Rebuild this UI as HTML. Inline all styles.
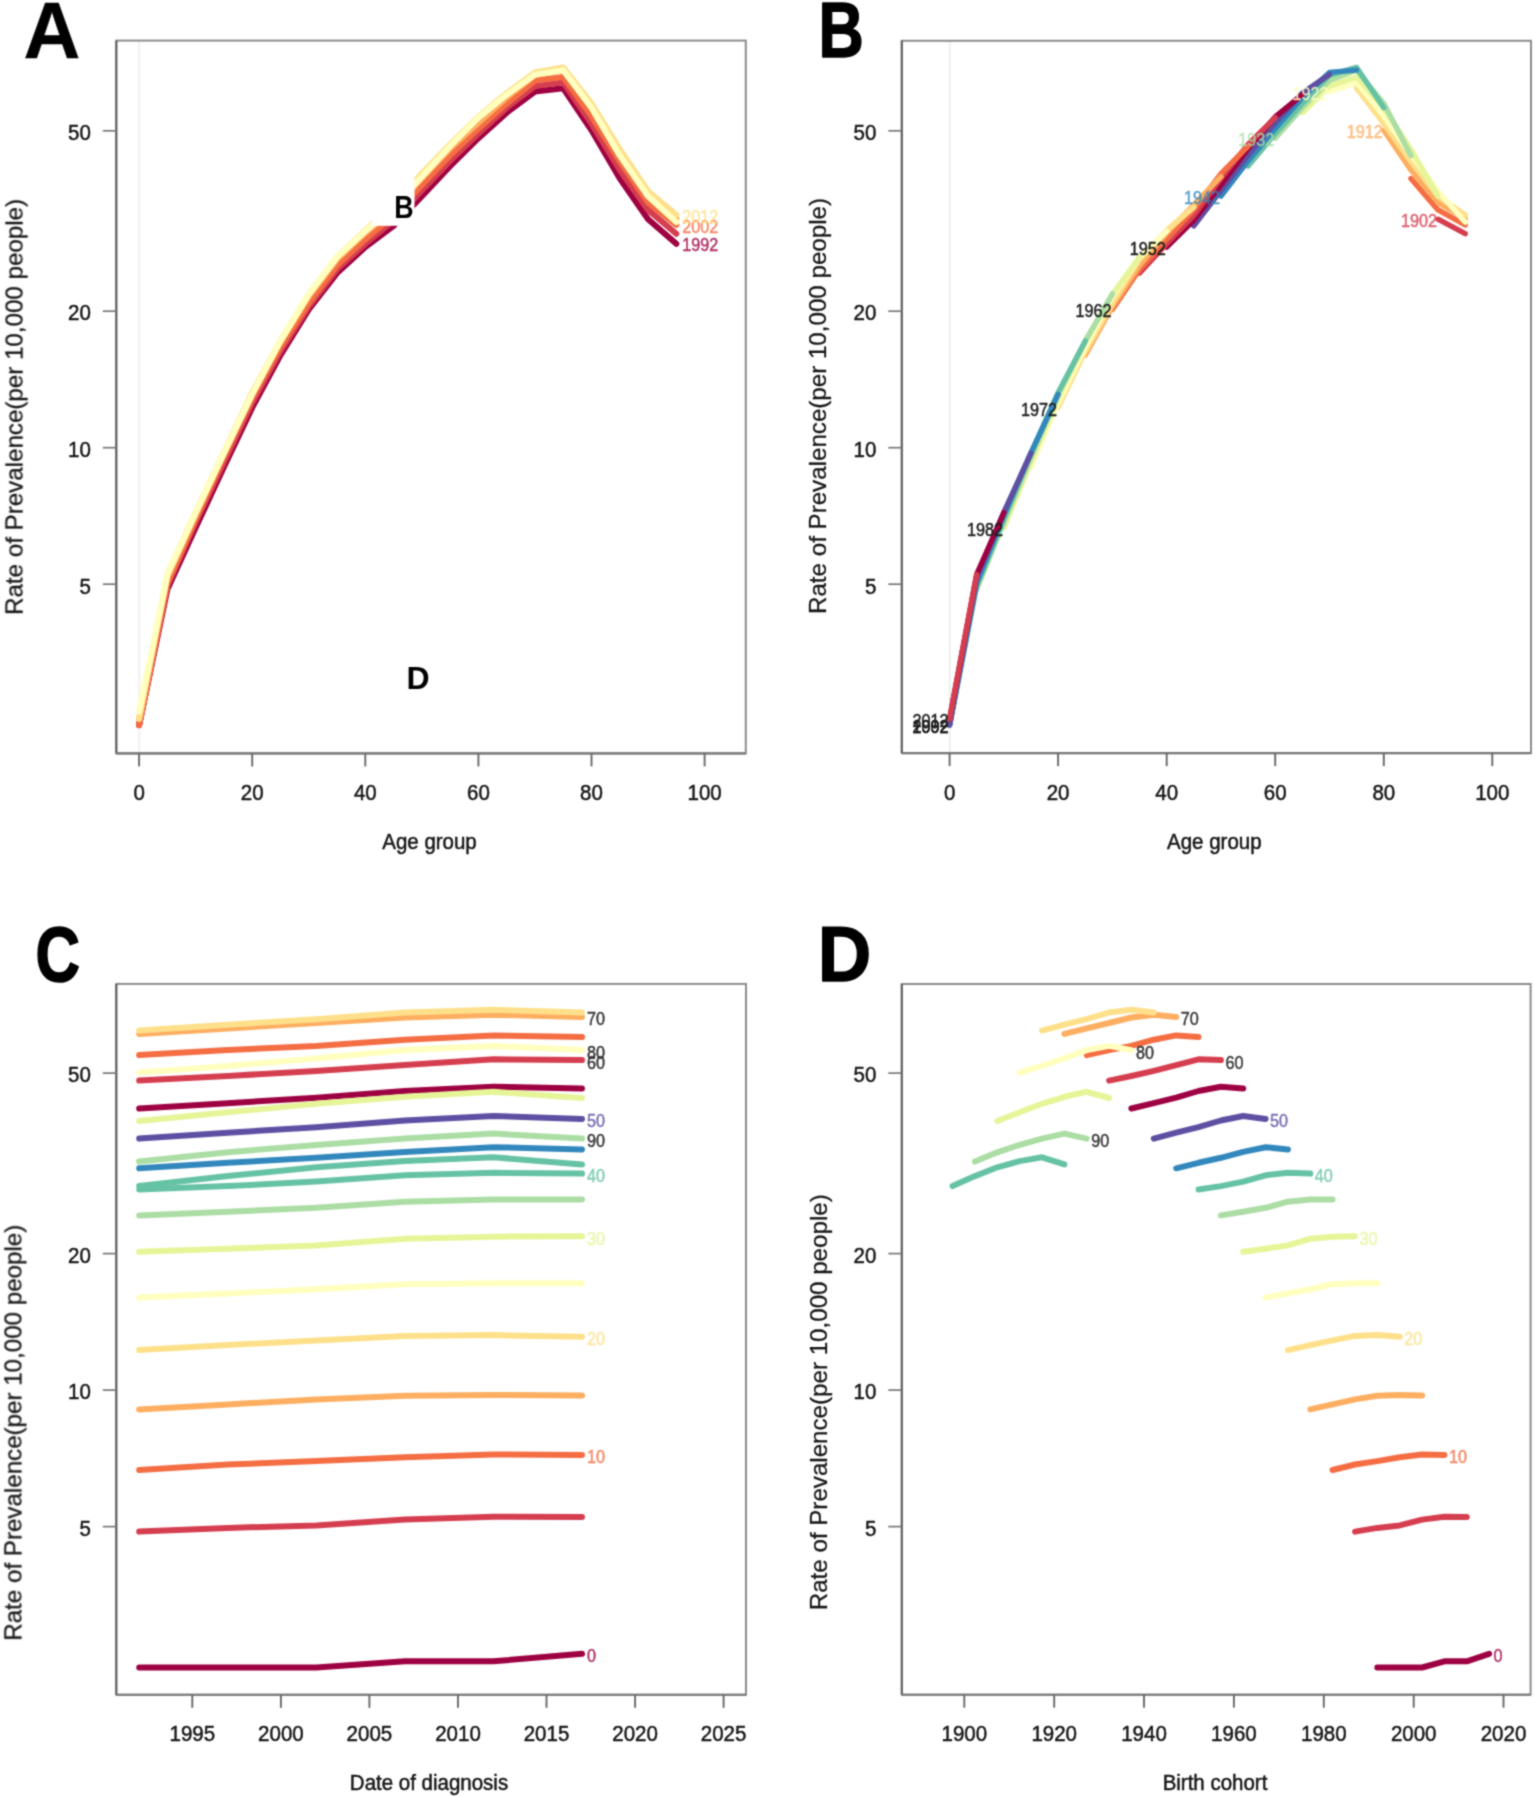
<!DOCTYPE html>
<html lang="en"><head><meta charset="utf-8"><title>Age-period-cohort rate plots</title>
<style>
html,body{margin:0;padding:0;background:#fff;}
body{width:1535px;height:1797px;overflow:hidden;}
svg{display:block;font-family:"Liberation Sans",sans-serif;}
polyline{fill:none;stroke-linecap:round;stroke-linejoin:round;}
</style></head><body>
<svg width="1535" height="1797" viewBox="0 0 1535 1797">
<defs><filter id="soft" filterUnits="userSpaceOnUse" x="0" y="0" width="1535" height="1797" color-interpolation-filters="sRGB"><feConvolveMatrix order="3" kernelMatrix="1 2 1 2 8 2 1 2 1" divisor="20" edgeMode="duplicate" preserveAlpha="false"/></filter></defs>
<g filter="url(#soft)">
<rect width="1535" height="1797" fill="#fff"/>
<line x1="139.2" y1="40.6" x2="139.2" y2="753.4" stroke="#f3f3f3" stroke-width="2.6"/>
<rect x="116.3" y="40.6" width="629.5" height="712.8" fill="none" stroke="#8c8c8c" stroke-width="2.0"/>
<line x1="116.3" y1="40.6" x2="116.3" y2="753.4" stroke="#606060" stroke-width="2.0"/>
<line x1="116.3" y1="753.4" x2="745.8" y2="753.4" stroke="#787878" stroke-width="2.1"/>
<line x1="139.1" y1="753.4" x2="139.1" y2="766.4" stroke="#686868" stroke-width="1.9"/>
<text transform="translate(139.1,799.9) scale(0.915,1)" font-size="22.4" fill="#151515" stroke="#151515" stroke-width="0.5" text-anchor="middle">0</text>
<line x1="252.2" y1="753.4" x2="252.2" y2="766.4" stroke="#686868" stroke-width="1.9"/>
<text transform="translate(252.2,799.9) scale(0.915,1)" font-size="22.4" fill="#151515" stroke="#151515" stroke-width="0.5" text-anchor="middle">20</text>
<line x1="365.3" y1="753.4" x2="365.3" y2="766.4" stroke="#686868" stroke-width="1.9"/>
<text transform="translate(365.3,799.9) scale(0.915,1)" font-size="22.4" fill="#151515" stroke="#151515" stroke-width="0.5" text-anchor="middle">40</text>
<line x1="478.4" y1="753.4" x2="478.4" y2="766.4" stroke="#686868" stroke-width="1.9"/>
<text transform="translate(478.4,799.9) scale(0.915,1)" font-size="22.4" fill="#151515" stroke="#151515" stroke-width="0.5" text-anchor="middle">60</text>
<line x1="591.5" y1="753.4" x2="591.5" y2="766.4" stroke="#686868" stroke-width="1.9"/>
<text transform="translate(591.5,799.9) scale(0.915,1)" font-size="22.4" fill="#151515" stroke="#151515" stroke-width="0.5" text-anchor="middle">80</text>
<line x1="704.6" y1="753.4" x2="704.6" y2="766.4" stroke="#686868" stroke-width="1.9"/>
<text transform="translate(704.6,799.9) scale(0.915,1)" font-size="22.4" fill="#151515" stroke="#151515" stroke-width="0.5" text-anchor="middle">100</text>
<line x1="102.8" y1="130.8" x2="116.3" y2="130.8" stroke="#787878" stroke-width="1.7"/>
<text transform="translate(90.8,140.0) scale(0.915,1)" font-size="22.4" fill="#151515" stroke="#151515" stroke-width="0.5" text-anchor="end">50</text>
<line x1="102.8" y1="311.2" x2="116.3" y2="311.2" stroke="#787878" stroke-width="1.7"/>
<text transform="translate(90.8,320.4) scale(0.915,1)" font-size="22.4" fill="#151515" stroke="#151515" stroke-width="0.5" text-anchor="end">20</text>
<line x1="102.8" y1="447.7" x2="116.3" y2="447.7" stroke="#787878" stroke-width="1.7"/>
<text transform="translate(90.8,457.0) scale(0.915,1)" font-size="22.4" fill="#151515" stroke="#151515" stroke-width="0.5" text-anchor="end">10</text>
<line x1="102.8" y1="584.2" x2="116.3" y2="584.2" stroke="#787878" stroke-width="1.7"/>
<text transform="translate(90.8,593.5) scale(0.915,1)" font-size="22.4" fill="#151515" stroke="#151515" stroke-width="0.5" text-anchor="end">5</text>
<text transform="translate(429.5,848.9) scale(0.915,1)" font-size="22.4" fill="#151515" stroke="#151515" stroke-width="0.5" text-anchor="middle">Age group</text>
<text transform="translate(22.5,406.9) rotate(-90)" font-size="24.1" fill="#161616" stroke="#161616" stroke-width="0.3" text-anchor="middle" textLength="416" lengthAdjust="spacingAndGlyphs" class="yl">Rate of Prevalence(per 10,000 people)</text>
<polyline points="139.1,725.1 167.4,589.2 195.7,527.6 223.9,467.1 252.2,407.7 280.5,355.1 308.8,309.4 337.0,273.1 365.3,247.1 393.6,225.9 421.9,196.2 450.1,166.1 478.4,138.2 506.7,112.7 535.0,91.6 563.2,88.2 591.5,130.2 619.8,178.6 648.1,219.2 676.3,243.7" stroke="#9E0142" stroke-width="6.0"/>
<polyline points="139.1,725.1 167.4,585.6 195.7,522.1 223.9,462.1 252.2,402.7 280.5,351.1 308.8,306.4 337.0,269.4 365.3,243.7 393.6,220.4 421.9,190.4 450.1,160.9 478.4,133.6 506.7,107.7 535.0,86.1 563.2,82.4 591.5,123.6 619.8,169.9 648.1,209.9 676.3,233.7" stroke="#D53E4F" stroke-width="6.0"/>
<polyline points="139.1,725.1 167.4,583.1 195.7,518.7 223.9,457.1 252.2,398.1 280.5,346.9 308.8,303.1 337.0,265.4 365.3,239.2 393.6,215.4 421.9,184.9 450.1,155.4 478.4,128.6 506.7,103.6 535.0,80.6 563.2,76.9 591.5,116.1 619.8,161.4 648.1,202.6 676.3,224.9" stroke="#F46D43" stroke-width="6.0"/>
<polyline points="139.1,718.9 167.4,577.2 195.7,514.9 223.9,453.4 252.2,393.6 280.5,341.9 308.8,296.4 337.0,259.4 365.3,232.9 393.6,209.6 421.9,178.1 450.1,148.6 478.4,122.7 506.7,97.4 535.0,75.1 563.2,70.1 591.5,107.7 619.8,154.4 648.1,196.2 676.3,218.7" stroke="#FDAE61" stroke-width="6.0"/>
<polyline points="139.1,718.9 167.4,574.4 195.7,512.1 223.9,452.6 252.2,392.7 280.5,340.9 308.8,294.4 337.0,257.1 365.3,230.4 393.6,204.9 421.9,173.6 450.1,144.4 478.4,116.9 506.7,93.1 535.0,72.4 563.2,67.4 591.5,103.6 619.8,149.4 648.1,191.2 676.3,214.9" stroke="#FEE08B" stroke-width="6.0"/>
<polyline points="139.1,711.4 167.4,574.6 195.7,512.6 223.9,453.1 252.2,394.4 280.5,340.9 308.8,293.9 337.0,257.1 365.3,231.2 393.6,207.1 421.9,176.6 450.1,146.1 478.4,117.7 506.7,94.7 535.0,74.6 563.2,70.1 591.5,107.7 619.8,155.6 648.1,196.2 676.3,222.1" stroke="#FFFFBF" stroke-width="6.0"/>
<text transform="translate(682.3,251.4) scale(0.9,1)" font-size="18" fill="#9E0142" stroke="#9E0142" stroke-width="0.5" text-anchor="start" opacity="0.8">1992</text>
<text transform="translate(682.3,232.6) scale(0.9,1)" font-size="18" fill="#F46D43" stroke="#F46D43" stroke-width="0.5" text-anchor="start" opacity="0.8">2002</text>
<text transform="translate(682.3,222.6) scale(0.9,1)" font-size="18" fill="#FEE08B" stroke="#FEE08B" stroke-width="0.5" text-anchor="start" opacity="0.8">2012</text>
<rect x="372" y="177" width="42.5" height="48.8" fill="#fff"/>
<text transform="translate(394.3,217.5) scale(0.88,1)" font-size="30.5" font-weight="bold" fill="#000">B</text>
<text transform="translate(406.6,688.8) scale(1.05,1)" font-size="30.5" font-weight="bold" fill="#000">D</text>
<line x1="949.8" y1="40.8" x2="949.8" y2="753.1" stroke="#e9e9e9" stroke-width="1.5"/>
<rect x="901.8" y="40.8" width="629.2" height="712.3" fill="none" stroke="#8c8c8c" stroke-width="2.0"/>
<line x1="901.8" y1="40.8" x2="901.8" y2="753.1" stroke="#606060" stroke-width="2.0"/>
<line x1="901.8" y1="753.1" x2="1531.0" y2="753.1" stroke="#787878" stroke-width="2.1"/>
<line x1="949.6" y1="753.1" x2="949.6" y2="766.1" stroke="#686868" stroke-width="1.9"/>
<text transform="translate(949.6,799.6) scale(0.915,1)" font-size="22.4" fill="#151515" stroke="#151515" stroke-width="0.5" text-anchor="middle">0</text>
<line x1="1058.1" y1="753.1" x2="1058.1" y2="766.1" stroke="#686868" stroke-width="1.9"/>
<text transform="translate(1058.1,799.6) scale(0.915,1)" font-size="22.4" fill="#151515" stroke="#151515" stroke-width="0.5" text-anchor="middle">20</text>
<line x1="1166.7" y1="753.1" x2="1166.7" y2="766.1" stroke="#686868" stroke-width="1.9"/>
<text transform="translate(1166.7,799.6) scale(0.915,1)" font-size="22.4" fill="#151515" stroke="#151515" stroke-width="0.5" text-anchor="middle">40</text>
<line x1="1275.2" y1="753.1" x2="1275.2" y2="766.1" stroke="#686868" stroke-width="1.9"/>
<text transform="translate(1275.2,799.6) scale(0.915,1)" font-size="22.4" fill="#151515" stroke="#151515" stroke-width="0.5" text-anchor="middle">60</text>
<line x1="1383.8" y1="753.1" x2="1383.8" y2="766.1" stroke="#686868" stroke-width="1.9"/>
<text transform="translate(1383.8,799.6) scale(0.915,1)" font-size="22.4" fill="#151515" stroke="#151515" stroke-width="0.5" text-anchor="middle">80</text>
<line x1="1492.3" y1="753.1" x2="1492.3" y2="766.1" stroke="#686868" stroke-width="1.9"/>
<text transform="translate(1492.3,799.6) scale(0.915,1)" font-size="22.4" fill="#151515" stroke="#151515" stroke-width="0.5" text-anchor="middle">100</text>
<line x1="888.3" y1="130.8" x2="901.8" y2="130.8" stroke="#787878" stroke-width="1.7"/>
<text transform="translate(876.3,140.0) scale(0.915,1)" font-size="22.4" fill="#151515" stroke="#151515" stroke-width="0.5" text-anchor="end">50</text>
<line x1="888.3" y1="311.2" x2="901.8" y2="311.2" stroke="#787878" stroke-width="1.7"/>
<text transform="translate(876.3,320.4) scale(0.915,1)" font-size="22.4" fill="#151515" stroke="#151515" stroke-width="0.5" text-anchor="end">20</text>
<line x1="888.3" y1="447.7" x2="901.8" y2="447.7" stroke="#787878" stroke-width="1.7"/>
<text transform="translate(876.3,457.0) scale(0.915,1)" font-size="22.4" fill="#151515" stroke="#151515" stroke-width="0.5" text-anchor="end">10</text>
<line x1="888.3" y1="584.2" x2="901.8" y2="584.2" stroke="#787878" stroke-width="1.7"/>
<text transform="translate(876.3,593.5) scale(0.915,1)" font-size="22.4" fill="#151515" stroke="#151515" stroke-width="0.5" text-anchor="end">5</text>
<text transform="translate(1214.3,848.6) scale(0.915,1)" font-size="22.4" fill="#151515" stroke="#151515" stroke-width="0.5" text-anchor="middle">Age group</text>
<text transform="translate(826.3,406.0) rotate(-90)" font-size="24.1" fill="#161616" stroke="#161616" stroke-width="0.3" text-anchor="middle" textLength="416" lengthAdjust="spacingAndGlyphs" class="yl">Rate of Prevalence(per 10,000 people)</text>
<polyline points="1438.0,219.2 1465.2,233.7" stroke="#D53E4F" stroke-width="5.4"/>
<polyline points="1410.9,178.6 1438.0,209.9 1465.2,224.9" stroke="#F46D43" stroke-width="5.4"/>
<polyline points="1383.8,130.2 1410.9,169.9 1438.0,202.6 1465.2,218.7" stroke="#FDAE61" stroke-width="5.4"/>
<polyline points="1356.6,88.2 1383.8,123.6 1410.9,161.4 1438.0,196.2 1465.2,214.9" stroke="#FEE08B" stroke-width="5.4"/>
<polyline points="1329.5,91.6 1356.6,82.4 1383.8,116.1 1410.9,154.4 1438.0,191.2 1465.2,222.1" stroke="#FFFFBF" stroke-width="5.4"/>
<polyline points="1302.4,112.7 1329.5,86.1 1356.6,76.9 1383.8,107.7 1410.9,149.4 1438.0,196.2" stroke="#E6F598" stroke-width="5.4"/>
<polyline points="1275.2,138.2 1302.4,107.7 1329.5,80.6 1356.6,70.1 1383.8,103.6 1410.9,155.6" stroke="#ABDDA4" stroke-width="5.4"/>
<polyline points="1248.1,166.1 1275.2,133.6 1302.4,103.6 1329.5,75.1 1356.6,67.4 1383.8,107.7" stroke="#66C2A5" stroke-width="5.4"/>
<polyline points="1221.0,196.2 1248.1,160.9 1275.2,128.6 1302.4,97.4 1329.5,72.4 1356.6,70.1" stroke="#3288BD" stroke-width="5.4"/>
<polyline points="1193.8,225.9 1221.0,190.4 1248.1,155.4 1275.2,122.7 1302.4,93.1 1329.5,74.6" stroke="#5E4FA2" stroke-width="5.4"/>
<polyline points="1166.7,247.1 1193.8,220.4 1221.0,184.9 1248.1,148.6 1275.2,116.9 1302.4,94.7" stroke="#9E0142" stroke-width="5.4"/>
<polyline points="1139.5,273.1 1166.7,243.7 1193.8,215.4 1221.0,178.1 1248.1,144.4 1275.2,117.7" stroke="#D53E4F" stroke-width="5.4"/>
<polyline points="1112.4,309.4 1139.5,269.4 1166.7,239.2 1193.8,209.6 1221.0,173.6 1248.1,146.1" stroke="#F46D43" stroke-width="5.4"/>
<polyline points="1085.3,355.1 1112.4,306.4 1139.5,265.4 1166.7,232.9 1193.8,204.9 1221.0,176.6" stroke="#FDAE61" stroke-width="5.4"/>
<polyline points="1058.1,407.7 1085.3,351.1 1112.4,303.1 1139.5,259.4 1166.7,230.4 1193.8,207.1" stroke="#FEE08B" stroke-width="5.4"/>
<polyline points="1031.0,467.1 1058.1,402.7 1085.3,346.9 1112.4,296.4 1139.5,257.1 1166.7,231.2" stroke="#FFFFBF" stroke-width="5.4"/>
<polyline points="1003.9,527.6 1031.0,462.1 1058.1,398.1 1085.3,341.9 1112.4,294.4 1139.5,257.1" stroke="#E6F598" stroke-width="5.4"/>
<polyline points="976.7,589.2 1003.9,522.1 1031.0,457.1 1058.1,393.6 1085.3,340.9 1112.4,293.9" stroke="#ABDDA4" stroke-width="5.4"/>
<polyline points="949.6,725.1 976.7,585.6 1003.9,518.7 1031.0,453.4 1058.1,392.7 1085.3,340.9" stroke="#66C2A5" stroke-width="5.4"/>
<polyline points="949.6,725.1 976.7,583.1 1003.9,514.9 1031.0,452.6 1058.1,394.4" stroke="#3288BD" stroke-width="5.4"/>
<polyline points="949.6,725.1 976.7,577.2 1003.9,512.1 1031.0,453.1" stroke="#5E4FA2" stroke-width="5.4"/>
<polyline points="949.6,718.9 976.7,574.4 1003.9,512.6" stroke="#9E0142" stroke-width="5.4"/>
<polyline points="949.6,718.9 976.7,574.6" stroke="#D53E4F" stroke-width="5.4"/>
<text transform="translate(1437.0,227.2) scale(0.9,1)" font-size="18" fill="#D53E4F" stroke="#D53E4F" stroke-width="0.5" text-anchor="end" opacity="0.8">1902</text>
<text transform="translate(1382.8,138.2) scale(0.9,1)" font-size="18" fill="#FDAE61" stroke="#FDAE61" stroke-width="0.5" text-anchor="end" opacity="0.8">1912</text>
<text transform="translate(1328.5,99.5) scale(0.9,1)" font-size="18" fill="#FFFFBF" stroke="#FFFFBF" stroke-width="0.5" text-anchor="end" opacity="0.8">1922</text>
<text transform="translate(1274.2,146.2) scale(0.9,1)" font-size="18" fill="#ABDDA4" stroke="#ABDDA4" stroke-width="0.5" text-anchor="end" opacity="0.8">1932</text>
<text transform="translate(1220.0,204.2) scale(0.9,1)" font-size="18" fill="#3288BD" stroke="#3288BD" stroke-width="0.5" text-anchor="end" opacity="0.8">1942</text>
<text transform="translate(1165.7,255.1) scale(0.9,1)" font-size="18" fill="#1e1e1e" stroke="#1e1e1e" stroke-width="0.5" text-anchor="end">1952</text>
<text transform="translate(1111.4,317.4) scale(0.9,1)" font-size="18" fill="#1e1e1e" stroke="#1e1e1e" stroke-width="0.5" text-anchor="end">1962</text>
<text transform="translate(1057.1,415.7) scale(0.9,1)" font-size="18" fill="#1e1e1e" stroke="#1e1e1e" stroke-width="0.5" text-anchor="end">1972</text>
<text transform="translate(1002.9,535.6) scale(0.9,1)" font-size="18" fill="#1e1e1e" stroke="#1e1e1e" stroke-width="0.5" text-anchor="end">1982</text>
<text transform="translate(948.6,733.1) scale(0.9,1)" font-size="18" fill="#1e1e1e" stroke="#1e1e1e" stroke-width="0.5" text-anchor="end">1992</text>
<text transform="translate(948.6,733.1) scale(0.9,1)" font-size="18" fill="#1e1e1e" stroke="#1e1e1e" stroke-width="0.5" text-anchor="end">2002</text>
<text transform="translate(948.6,726.9) scale(0.9,1)" font-size="18" fill="#1e1e1e" stroke="#1e1e1e" stroke-width="0.5" text-anchor="end">2012</text>
<rect x="116.3" y="983.9" width="629.7" height="710.9" fill="none" stroke="#8c8c8c" stroke-width="2.0"/>
<line x1="116.3" y1="983.9" x2="116.3" y2="1694.8" stroke="#606060" stroke-width="2.0"/>
<line x1="116.3" y1="1694.8" x2="746.0" y2="1694.8" stroke="#787878" stroke-width="2.1"/>
<line x1="192.3" y1="1694.8" x2="192.3" y2="1707.8" stroke="#686868" stroke-width="1.9"/>
<text transform="translate(192.3,1741.3) scale(0.915,1)" font-size="22.4" fill="#151515" stroke="#151515" stroke-width="0.5" text-anchor="middle">1995</text>
<line x1="280.9" y1="1694.8" x2="280.9" y2="1707.8" stroke="#686868" stroke-width="1.9"/>
<text transform="translate(280.9,1741.3) scale(0.915,1)" font-size="22.4" fill="#151515" stroke="#151515" stroke-width="0.5" text-anchor="middle">2000</text>
<line x1="369.4" y1="1694.8" x2="369.4" y2="1707.8" stroke="#686868" stroke-width="1.9"/>
<text transform="translate(369.4,1741.3) scale(0.915,1)" font-size="22.4" fill="#151515" stroke="#151515" stroke-width="0.5" text-anchor="middle">2005</text>
<line x1="458.0" y1="1694.8" x2="458.0" y2="1707.8" stroke="#686868" stroke-width="1.9"/>
<text transform="translate(458.0,1741.3) scale(0.915,1)" font-size="22.4" fill="#151515" stroke="#151515" stroke-width="0.5" text-anchor="middle">2010</text>
<line x1="546.5" y1="1694.8" x2="546.5" y2="1707.8" stroke="#686868" stroke-width="1.9"/>
<text transform="translate(546.5,1741.3) scale(0.915,1)" font-size="22.4" fill="#151515" stroke="#151515" stroke-width="0.5" text-anchor="middle">2015</text>
<line x1="635.1" y1="1694.8" x2="635.1" y2="1707.8" stroke="#686868" stroke-width="1.9"/>
<text transform="translate(635.1,1741.3) scale(0.915,1)" font-size="22.4" fill="#151515" stroke="#151515" stroke-width="0.5" text-anchor="middle">2020</text>
<line x1="723.6" y1="1694.8" x2="723.6" y2="1707.8" stroke="#686868" stroke-width="1.9"/>
<text transform="translate(723.6,1741.3) scale(0.915,1)" font-size="22.4" fill="#151515" stroke="#151515" stroke-width="0.5" text-anchor="middle">2025</text>
<line x1="102.8" y1="1073.1" x2="116.3" y2="1073.1" stroke="#787878" stroke-width="1.7"/>
<text transform="translate(90.8,1082.3) scale(0.915,1)" font-size="22.4" fill="#151515" stroke="#151515" stroke-width="0.5" text-anchor="end">50</text>
<line x1="102.8" y1="1253.6" x2="116.3" y2="1253.6" stroke="#787878" stroke-width="1.7"/>
<text transform="translate(90.8,1262.8) scale(0.915,1)" font-size="22.4" fill="#151515" stroke="#151515" stroke-width="0.5" text-anchor="end">20</text>
<line x1="102.8" y1="1390.1" x2="116.3" y2="1390.1" stroke="#787878" stroke-width="1.7"/>
<text transform="translate(90.8,1399.3) scale(0.915,1)" font-size="22.4" fill="#151515" stroke="#151515" stroke-width="0.5" text-anchor="end">10</text>
<line x1="102.8" y1="1526.6" x2="116.3" y2="1526.6" stroke="#787878" stroke-width="1.7"/>
<text transform="translate(90.8,1535.8) scale(0.915,1)" font-size="22.4" fill="#151515" stroke="#151515" stroke-width="0.5" text-anchor="end">5</text>
<text transform="translate(429.0,1790.3) scale(0.915,1)" font-size="22.4" fill="#151515" stroke="#151515" stroke-width="0.5" text-anchor="middle">Date of diagnosis</text>
<text transform="translate(21.4,1432.7) rotate(-90)" font-size="24.1" fill="#161616" stroke="#161616" stroke-width="0.3" text-anchor="middle" textLength="416" lengthAdjust="spacingAndGlyphs" class="yl">Rate of Prevalence(per 10,000 people)</text>
<polyline points="139.2,1667.5 227.8,1667.5 316.3,1667.5 404.9,1661.3 493.4,1661.3 582.0,1653.8" stroke="#9E0142" stroke-width="6.0"/>
<polyline points="139.2,1531.6 227.8,1527.9 316.3,1525.4 404.9,1519.6 493.4,1516.7 582.0,1517.0" stroke="#D53E4F" stroke-width="6.0"/>
<polyline points="139.2,1470.0 227.8,1464.5 316.3,1461.1 404.9,1457.3 493.4,1454.5 582.0,1455.0" stroke="#F46D43" stroke-width="6.0"/>
<polyline points="139.2,1409.4 227.8,1404.4 316.3,1399.4 404.9,1395.7 493.4,1394.9 582.0,1395.5" stroke="#FDAE61" stroke-width="6.0"/>
<polyline points="139.2,1350.1 227.8,1345.1 316.3,1340.4 404.9,1335.9 493.4,1335.1 582.0,1336.8" stroke="#FEE08B" stroke-width="6.0"/>
<polyline points="139.2,1297.5 227.8,1293.4 316.3,1289.2 404.9,1284.2 493.4,1283.3 582.0,1283.3" stroke="#FFFFBF" stroke-width="6.0"/>
<polyline points="139.2,1251.8 227.8,1248.7 316.3,1245.4 404.9,1238.7 493.4,1236.7 582.0,1236.2" stroke="#E6F598" stroke-width="6.0"/>
<polyline points="139.2,1215.4 227.8,1211.7 316.3,1207.8 404.9,1201.7 493.4,1199.5 582.0,1199.5" stroke="#ABDDA4" stroke-width="6.0"/>
<polyline points="139.2,1189.5 227.8,1186.1 316.3,1181.6 404.9,1175.3 493.4,1172.8 582.0,1173.6" stroke="#66C2A5" stroke-width="6.0"/>
<polyline points="139.2,1168.3 227.8,1162.8 316.3,1157.8 404.9,1151.9 493.4,1147.2 582.0,1149.4" stroke="#3288BD" stroke-width="6.0"/>
<polyline points="139.2,1138.6 227.8,1132.7 316.3,1127.2 404.9,1120.5 493.4,1116.0 582.0,1118.9" stroke="#5E4FA2" stroke-width="6.0"/>
<polyline points="139.2,1108.5 227.8,1103.2 316.3,1097.7 404.9,1091.0 493.4,1086.8 582.0,1088.5" stroke="#9E0142" stroke-width="6.0"/>
<polyline points="139.2,1080.6 227.8,1076.0 316.3,1070.9 404.9,1065.1 493.4,1059.3 582.0,1060.1" stroke="#D53E4F" stroke-width="6.0"/>
<polyline points="139.2,1055.1 227.8,1050.1 316.3,1045.9 404.9,1039.7 493.4,1035.4 582.0,1037.1" stroke="#F46D43" stroke-width="6.0"/>
<polyline points="139.2,1033.9 227.8,1028.4 316.3,1023.0 404.9,1017.5 493.4,1014.7 582.0,1017.0" stroke="#FDAE61" stroke-width="6.0"/>
<polyline points="139.2,1030.6 227.8,1024.7 316.3,1019.2 404.9,1012.5 493.4,1009.7 582.0,1012.5" stroke="#FEE08B" stroke-width="6.0"/>
<polyline points="139.2,1072.6 227.8,1065.9 316.3,1058.4 404.9,1050.1 493.4,1045.9 582.0,1050.1" stroke="#FFFFBF" stroke-width="6.0"/>
<polyline points="139.2,1121.0 227.8,1112.2 316.3,1103.8 404.9,1096.8 493.4,1091.8 582.0,1098.0" stroke="#E6F598" stroke-width="6.0"/>
<polyline points="139.2,1161.6 227.8,1152.3 316.3,1144.9 404.9,1138.6 493.4,1133.6 582.0,1138.6" stroke="#ABDDA4" stroke-width="6.0"/>
<polyline points="139.2,1186.1 227.8,1176.1 316.3,1167.3 404.9,1161.1 493.4,1157.3 582.0,1164.4" stroke="#66C2A5" stroke-width="6.0"/>
<text transform="translate(587.0,1662.2) scale(0.9,1)" font-size="18" fill="#9E0142" stroke="#9E0142" stroke-width="0.5" text-anchor="start" opacity="0.8">0</text>
<text transform="translate(587.0,1463.4) scale(0.9,1)" font-size="18" fill="#F46D43" stroke="#F46D43" stroke-width="0.5" text-anchor="start" opacity="0.8">10</text>
<text transform="translate(587.0,1345.2) scale(0.9,1)" font-size="18" fill="#FEE08B" stroke="#FEE08B" stroke-width="0.5" text-anchor="start" opacity="0.8">20</text>
<text transform="translate(587.0,1244.6) scale(0.9,1)" font-size="18" fill="#E6F598" stroke="#E6F598" stroke-width="0.5" text-anchor="start" opacity="0.8">30</text>
<text transform="translate(587.0,1182.0) scale(0.9,1)" font-size="18" fill="#66C2A5" stroke="#66C2A5" stroke-width="0.5" text-anchor="start" opacity="0.8">40</text>
<text transform="translate(587.0,1127.3) scale(0.9,1)" font-size="18" fill="#5E4FA2" stroke="#5E4FA2" stroke-width="0.5" text-anchor="start" opacity="0.8">50</text>
<text transform="translate(587.0,1068.5) scale(0.9,1)" font-size="18" fill="#2a2a2a" stroke="#2a2a2a" stroke-width="0.5" text-anchor="start" opacity="0.92">60</text>
<text transform="translate(587.0,1025.4) scale(0.9,1)" font-size="18" fill="#2a2a2a" stroke="#2a2a2a" stroke-width="0.5" text-anchor="start" opacity="0.92">70</text>
<text transform="translate(587.0,1058.5) scale(0.9,1)" font-size="18" fill="#2a2a2a" stroke="#2a2a2a" stroke-width="0.5" text-anchor="start" opacity="0.92">80</text>
<text transform="translate(587.0,1147.0) scale(0.9,1)" font-size="18" fill="#2a2a2a" stroke="#2a2a2a" stroke-width="0.5" text-anchor="start" opacity="0.92">90</text>
<rect x="901.8" y="984.0" width="628.8" height="710.7" fill="none" stroke="#8c8c8c" stroke-width="2.0"/>
<line x1="901.8" y1="984.0" x2="901.8" y2="1694.7" stroke="#606060" stroke-width="2.0"/>
<line x1="901.8" y1="1694.7" x2="1530.6" y2="1694.7" stroke="#787878" stroke-width="2.1"/>
<line x1="964.3" y1="1694.7" x2="964.3" y2="1707.7" stroke="#686868" stroke-width="1.9"/>
<text transform="translate(964.3,1741.2) scale(0.915,1)" font-size="22.4" fill="#151515" stroke="#151515" stroke-width="0.5" text-anchor="middle">1900</text>
<line x1="1054.2" y1="1694.7" x2="1054.2" y2="1707.7" stroke="#686868" stroke-width="1.9"/>
<text transform="translate(1054.2,1741.2) scale(0.915,1)" font-size="22.4" fill="#151515" stroke="#151515" stroke-width="0.5" text-anchor="middle">1920</text>
<line x1="1144.0" y1="1694.7" x2="1144.0" y2="1707.7" stroke="#686868" stroke-width="1.9"/>
<text transform="translate(1144.0,1741.2) scale(0.915,1)" font-size="22.4" fill="#151515" stroke="#151515" stroke-width="0.5" text-anchor="middle">1940</text>
<line x1="1233.9" y1="1694.7" x2="1233.9" y2="1707.7" stroke="#686868" stroke-width="1.9"/>
<text transform="translate(1233.9,1741.2) scale(0.915,1)" font-size="22.4" fill="#151515" stroke="#151515" stroke-width="0.5" text-anchor="middle">1960</text>
<line x1="1323.8" y1="1694.7" x2="1323.8" y2="1707.7" stroke="#686868" stroke-width="1.9"/>
<text transform="translate(1323.8,1741.2) scale(0.915,1)" font-size="22.4" fill="#151515" stroke="#151515" stroke-width="0.5" text-anchor="middle">1980</text>
<line x1="1413.7" y1="1694.7" x2="1413.7" y2="1707.7" stroke="#686868" stroke-width="1.9"/>
<text transform="translate(1413.7,1741.2) scale(0.915,1)" font-size="22.4" fill="#151515" stroke="#151515" stroke-width="0.5" text-anchor="middle">2000</text>
<line x1="1503.5" y1="1694.7" x2="1503.5" y2="1707.7" stroke="#686868" stroke-width="1.9"/>
<text transform="translate(1503.5,1741.2) scale(0.915,1)" font-size="22.4" fill="#151515" stroke="#151515" stroke-width="0.5" text-anchor="middle">2020</text>
<line x1="888.3" y1="1073.1" x2="901.8" y2="1073.1" stroke="#787878" stroke-width="1.7"/>
<text transform="translate(876.3,1082.3) scale(0.915,1)" font-size="22.4" fill="#151515" stroke="#151515" stroke-width="0.5" text-anchor="end">50</text>
<line x1="888.3" y1="1253.6" x2="901.8" y2="1253.6" stroke="#787878" stroke-width="1.7"/>
<text transform="translate(876.3,1262.8) scale(0.915,1)" font-size="22.4" fill="#151515" stroke="#151515" stroke-width="0.5" text-anchor="end">20</text>
<line x1="888.3" y1="1390.1" x2="901.8" y2="1390.1" stroke="#787878" stroke-width="1.7"/>
<text transform="translate(876.3,1399.3) scale(0.915,1)" font-size="22.4" fill="#151515" stroke="#151515" stroke-width="0.5" text-anchor="end">10</text>
<line x1="888.3" y1="1526.6" x2="901.8" y2="1526.6" stroke="#787878" stroke-width="1.7"/>
<text transform="translate(876.3,1535.8) scale(0.915,1)" font-size="22.4" fill="#151515" stroke="#151515" stroke-width="0.5" text-anchor="end">5</text>
<text transform="translate(1215.0,1790.2) scale(0.915,1)" font-size="22.4" fill="#151515" stroke="#151515" stroke-width="0.5" text-anchor="middle">Birth cohort</text>
<text transform="translate(826.8,1402.3) rotate(-90)" font-size="24.1" fill="#161616" stroke="#161616" stroke-width="0.3" text-anchor="middle" textLength="416" lengthAdjust="spacingAndGlyphs" class="yl">Rate of Prevalence(per 10,000 people)</text>
<polyline points="1377.3,1667.5 1399.7,1667.5 1422.1,1667.5 1444.4,1661.3 1466.8,1661.3 1489.1,1653.8" stroke="#9E0142" stroke-width="6.0"/>
<polyline points="1355.0,1531.6 1377.3,1527.9 1399.7,1525.4 1422.1,1519.6 1444.4,1516.7 1466.8,1517.0" stroke="#D53E4F" stroke-width="6.0"/>
<polyline points="1332.6,1470.0 1355.0,1464.5 1377.3,1461.1 1399.7,1457.3 1422.1,1454.5 1444.4,1455.0" stroke="#F46D43" stroke-width="6.0"/>
<polyline points="1310.3,1409.4 1332.6,1404.4 1355.0,1399.4 1377.3,1395.7 1399.7,1394.9 1422.1,1395.5" stroke="#FDAE61" stroke-width="6.0"/>
<polyline points="1287.9,1350.1 1310.3,1345.1 1332.6,1340.4 1355.0,1335.9 1377.3,1335.1 1399.7,1336.8" stroke="#FEE08B" stroke-width="6.0"/>
<polyline points="1265.6,1297.5 1287.9,1293.4 1310.3,1289.2 1332.6,1284.2 1355.0,1283.3 1377.3,1283.3" stroke="#FFFFBF" stroke-width="6.0"/>
<polyline points="1243.2,1251.8 1265.6,1248.7 1287.9,1245.4 1310.3,1238.7 1332.6,1236.7 1355.0,1236.2" stroke="#E6F598" stroke-width="6.0"/>
<polyline points="1220.9,1215.4 1243.2,1211.7 1265.6,1207.8 1287.9,1201.7 1310.3,1199.5 1332.6,1199.5" stroke="#ABDDA4" stroke-width="6.0"/>
<polyline points="1198.5,1189.5 1220.9,1186.1 1243.2,1181.6 1265.6,1175.3 1287.9,1172.8 1310.3,1173.6" stroke="#66C2A5" stroke-width="6.0"/>
<polyline points="1176.2,1168.3 1198.5,1162.8 1220.9,1157.8 1243.2,1151.9 1265.6,1147.2 1287.9,1149.4" stroke="#3288BD" stroke-width="6.0"/>
<polyline points="1153.8,1138.6 1176.2,1132.7 1198.5,1127.2 1220.9,1120.5 1243.2,1116.0 1265.6,1118.9" stroke="#5E4FA2" stroke-width="6.0"/>
<polyline points="1131.4,1108.5 1153.8,1103.2 1176.2,1097.7 1198.5,1091.0 1220.9,1086.8 1243.2,1088.5" stroke="#9E0142" stroke-width="6.0"/>
<polyline points="1109.1,1080.6 1131.4,1076.0 1153.8,1070.9 1176.2,1065.1 1198.5,1059.3 1220.9,1060.1" stroke="#D53E4F" stroke-width="6.0"/>
<polyline points="1086.7,1055.1 1109.1,1050.1 1131.4,1045.9 1153.8,1039.7 1176.2,1035.4 1198.5,1037.1" stroke="#F46D43" stroke-width="6.0"/>
<polyline points="1064.4,1033.9 1086.7,1028.4 1109.1,1023.0 1131.4,1017.5 1153.8,1014.7 1176.2,1017.0" stroke="#FDAE61" stroke-width="6.0"/>
<polyline points="1042.0,1030.6 1064.4,1024.7 1086.7,1019.2 1109.1,1012.5 1131.4,1009.7 1153.8,1012.5" stroke="#FEE08B" stroke-width="6.0"/>
<polyline points="1019.7,1072.6 1042.0,1065.9 1064.4,1058.4 1086.7,1050.1 1109.1,1045.9 1131.4,1050.1" stroke="#FFFFBF" stroke-width="6.0"/>
<polyline points="997.3,1121.0 1019.7,1112.2 1042.0,1103.8 1064.4,1096.8 1086.7,1091.8 1109.1,1098.0" stroke="#E6F598" stroke-width="6.0"/>
<polyline points="975.0,1161.6 997.3,1152.3 1019.7,1144.9 1042.0,1138.6 1064.4,1133.6 1086.7,1138.6" stroke="#ABDDA4" stroke-width="6.0"/>
<polyline points="952.6,1186.1 975.0,1176.1 997.3,1167.3 1019.7,1161.1 1042.0,1157.3 1064.4,1164.4" stroke="#66C2A5" stroke-width="6.0"/>
<text transform="translate(1493.6,1662.2) scale(0.9,1)" font-size="18" fill="#9E0142" stroke="#9E0142" stroke-width="0.5" text-anchor="start" opacity="0.8">0</text>
<text transform="translate(1448.9,1463.4) scale(0.9,1)" font-size="18" fill="#F46D43" stroke="#F46D43" stroke-width="0.5" text-anchor="start" opacity="0.8">10</text>
<text transform="translate(1404.2,1345.2) scale(0.9,1)" font-size="18" fill="#FEE08B" stroke="#FEE08B" stroke-width="0.5" text-anchor="start" opacity="0.8">20</text>
<text transform="translate(1359.5,1244.6) scale(0.9,1)" font-size="18" fill="#E6F598" stroke="#E6F598" stroke-width="0.5" text-anchor="start" opacity="0.8">30</text>
<text transform="translate(1314.8,1182.0) scale(0.9,1)" font-size="18" fill="#66C2A5" stroke="#66C2A5" stroke-width="0.5" text-anchor="start" opacity="0.8">40</text>
<text transform="translate(1270.1,1127.3) scale(0.9,1)" font-size="18" fill="#5E4FA2" stroke="#5E4FA2" stroke-width="0.5" text-anchor="start" opacity="0.8">50</text>
<text transform="translate(1225.4,1068.5) scale(0.9,1)" font-size="18" fill="#2a2a2a" stroke="#2a2a2a" stroke-width="0.5" text-anchor="start" opacity="0.92">60</text>
<text transform="translate(1180.7,1025.4) scale(0.9,1)" font-size="18" fill="#2a2a2a" stroke="#2a2a2a" stroke-width="0.5" text-anchor="start" opacity="0.92">70</text>
<text transform="translate(1135.9,1058.5) scale(0.9,1)" font-size="18" fill="#2a2a2a" stroke="#2a2a2a" stroke-width="0.5" text-anchor="start" opacity="0.92">80</text>
<text transform="translate(1091.2,1147.0) scale(0.9,1)" font-size="18" fill="#2a2a2a" stroke="#2a2a2a" stroke-width="0.5" text-anchor="start" opacity="0.92">90</text>
<text transform="translate(23.4,57.5) scale(0.982,1)" font-size="80.2" font-weight="bold" fill="#000" stroke="#000" stroke-width="0.4" stroke-linejoin="round">A</text>
<text transform="translate(818.6,56.8) scale(0.8,1)" font-size="78.4" font-weight="bold" fill="#000" stroke="#000" stroke-width="1.5" stroke-linejoin="round">B</text>
<text transform="translate(35.4,981.0) scale(0.79,1)" font-size="78.0" font-weight="bold" fill="#000" stroke="#000" stroke-width="1.7" stroke-linejoin="round">C</text>
<text transform="translate(817.8,981.4) scale(0.945,1)" font-size="78.4" font-weight="bold" fill="#000" stroke="#000" stroke-width="1.4" stroke-linejoin="round">D</text>
</g>
</svg>
</body></html>
